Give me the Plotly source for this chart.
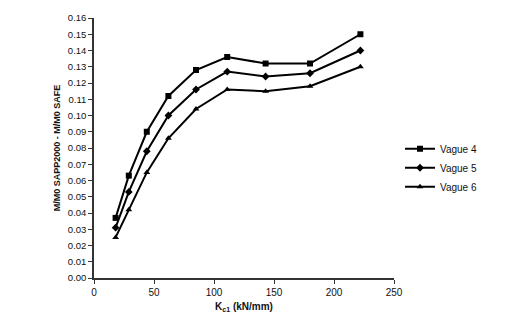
import plotly.graph_objects as go

kc1 = [18, 29, 44, 62, 85, 111, 143, 180, 222]
vague4 = [0.037, 0.063, 0.090, 0.112, 0.128, 0.136, 0.132, 0.132, 0.150]
vague5 = [0.031, 0.053, 0.078, 0.100, 0.116, 0.127, 0.124, 0.126, 0.140]
vague6 = [0.025, 0.042, 0.065, 0.086, 0.104, 0.116, 0.115, 0.118, 0.130]

series = [("Vague 4", vague4, "square", 6),
          ("Vague 5", vague5, "diamond", 6),
          ("Vague 6", vague6, "triangle-up", 6)]

fig = go.Figure()
for name, vals, sym, sz in series:
    fig.add_trace(go.Scatter(
        x=kc1, y=vals, name=name, mode="lines+markers",
        line=dict(color="black", width=2),
        marker=dict(symbol=sym, size=sz, color="black"),
    ))

font = "Liberation Sans"
fig.update_layout(
    width=526, height=326,
    margin=dict(l=94, r=132, t=16, b=48),
    paper_bgcolor="white", plot_bgcolor="white",
    font=dict(family=font, size=10, color="#111"),
    showlegend=True,
    legend=dict(x=1.02, xanchor="left", y=0.424, yanchor="middle",
                font=dict(size=10, color="#111"), itemwidth=30,
                bgcolor="rgba(0,0,0,0)", tracegroupgap=0),
    xaxis=dict(range=[0, 250], dtick=50, showgrid=False, zeroline=False,
               showline=True, linecolor="#333", linewidth=1.5,
               ticks="outside", ticklen=4, tickcolor="#333",
               tickfont=dict(size=10),
               title=dict(text="<b>K<sub>c1</sub> (kN/mm)</b>", font=dict(size=10), standoff=6)),
    yaxis=dict(range=[0, 0.16], dtick=0.01, tickformat=".2f", showgrid=False,
               zeroline=False, showline=True, linecolor="#333", linewidth=1.5,
               ticks="outside", ticklen=4, tickcolor="#333",
               tickfont=dict(size=9.5),
               title=dict(text="<b>M/M0 SAPP2000 - M/M0 SAFE</b>", font=dict(size=9), standoff=6)),
)

fig.write_html("out.html")
